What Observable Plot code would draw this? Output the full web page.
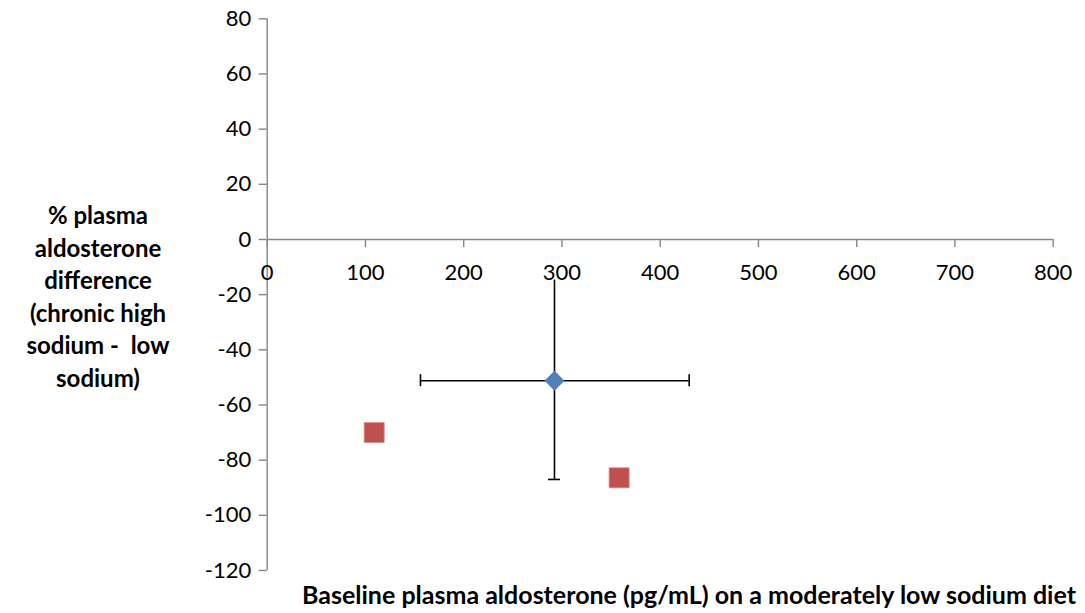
<!DOCTYPE html>
<html>
<head>
<meta charset="utf-8">
<script src="https://cdn.jsdelivr.net/npm/d3@7"></script>
<script src="https://cdn.jsdelivr.net/npm/@observablehq/plot@0.6"></script>
<style>
  html, body { margin: 0; padding: 0; background: #fff; }
  #chart svg { display: block; }
</style>
</head>
<body>
<div id="chart"></div>
<script>
// ---- data ----
const xTicks = [0, 100, 200, 300, 400, 500, 600, 700, 800];
const yTicks = [-120, -100, -80, -60, -40, -20, 0, 20, 40, 60, 80];

// mean (blue diamond) with error bars
const meanX = [292.4];
const meanY = [-51.2];
const meanXLow = [156];
const meanXHigh = [429.5];
const meanYLow = [-87.0];
const meanYHigh = [-14.7];

// individual subjects (red squares)
const indivX = [108.9, 358.2];
const indivY = [-70.0, -86.4];

const yTitleLines = ["% plasma", "aldosterone", "difference", "(chronic high", "sodium -  low", "sodium)"];
const xTitle = "Baseline plasma aldosterone (pg/mL) on a moderately low sodium diet";

// ---- build tables ----
const mean = meanX.map((x, i) => ({x, y: meanY[i], xl: meanXLow[i], xh: meanXHigh[i], yl: meanYLow[i], yh: meanYHigh[i]}));
const indiv = indivX.map((x, i) => ({x, y: indivY[i]}));

const axisColor = "#868686";
const font = "Lato, 'Open Sans', sans-serif";
const tickFont = 22;

const plot = Plot.plot({
  width: 1085,
  height: 613,
  marginLeft: 266.7,
  marginRight: 32.3,
  marginTop: 18.3,
  marginBottom: 43,
  style: {fontFamily: font, fontSize: tickFont + "px", color: "#000", background: "#fff"},
  x: {domain: [0, 800], axis: null},
  y: {domain: [-120, 80], axis: null},
  marks: [
    // y axis
    Plot.axisY({ticks: yTicks, tickSize: 8, tickPadding: 8, stroke: axisColor, strokeWidth: 1.4, fill: "#000", fontSize: tickFont, label: null, tickFormat: d => String(d)}),
    Plot.ruleX([0], {stroke: axisColor, strokeWidth: 1.4}),
    // x axis at y = 0
    Plot.ruleY([0], {stroke: axisColor, strokeWidth: 1.4}),
    Plot.ruleX(xTicks, {x: d => d, y1: 0, y2: 0, insetBottom: -8, stroke: axisColor, strokeWidth: 1.4}),
    Plot.text(xTicks, {x: d => d, y: 0, dy: 33, text: d => String(d), fill: "#000", fontSize: tickFont}),
    // error bars
    Plot.ruleY(mean, {x1: "xl", x2: "xh", y: "y", stroke: "#000", strokeWidth: 1.6}),
    Plot.ruleX(mean, {x: "x", y1: "yl", y2: "yh", stroke: "#000", strokeWidth: 1.6}),
    Plot.ruleX(mean, {x: "xl", y1: "y", y2: "y", insetTop: -6, insetBottom: -6, stroke: "#000", strokeWidth: 1.6}),
    Plot.ruleX(mean, {x: "xh", y1: "y", y2: "y", insetTop: -6, insetBottom: -6, stroke: "#000", strokeWidth: 1.6}),
    Plot.ruleY(mean, {y: "yl", x1: "x", x2: "x", insetLeft: -6, insetRight: -6, stroke: "#000", strokeWidth: 1.6}),
    // points
    Plot.dot(mean, {x: "x", y: "y", symbol: "diamond2", r: 9, fill: "#4F81BD", stroke: "none"}),
    Plot.dot(indiv, {x: "x", y: "y", symbol: "square", r: 11.3, fill: "#C0504D", stroke: "#D98C8A", strokeWidth: 0.8})
  ]
});

// axis titles
const svg = d3.select(plot);
const yt = svg.append("text")
  .attr("text-anchor", "middle")
  .attr("font-family", font)
  .attr("font-weight", "bold")
  .attr("font-size", 24)
  .attr("fill", "#000");
yTitleLines.forEach((line, i) => {
  yt.append("tspan").attr("x", 98).attr("y", 224 + i * 32.6).text(line);
});
svg.append("text")
  .attr("x", 689)
  .attr("y", 604)
  .attr("text-anchor", "middle")
  .attr("font-family", font)
  .attr("font-weight", "bold")
  .attr("font-size", 25)
  .attr("fill", "#000")
  .text(xTitle);

document.getElementById("chart").appendChild(plot);
</script>
</body>
</html>
